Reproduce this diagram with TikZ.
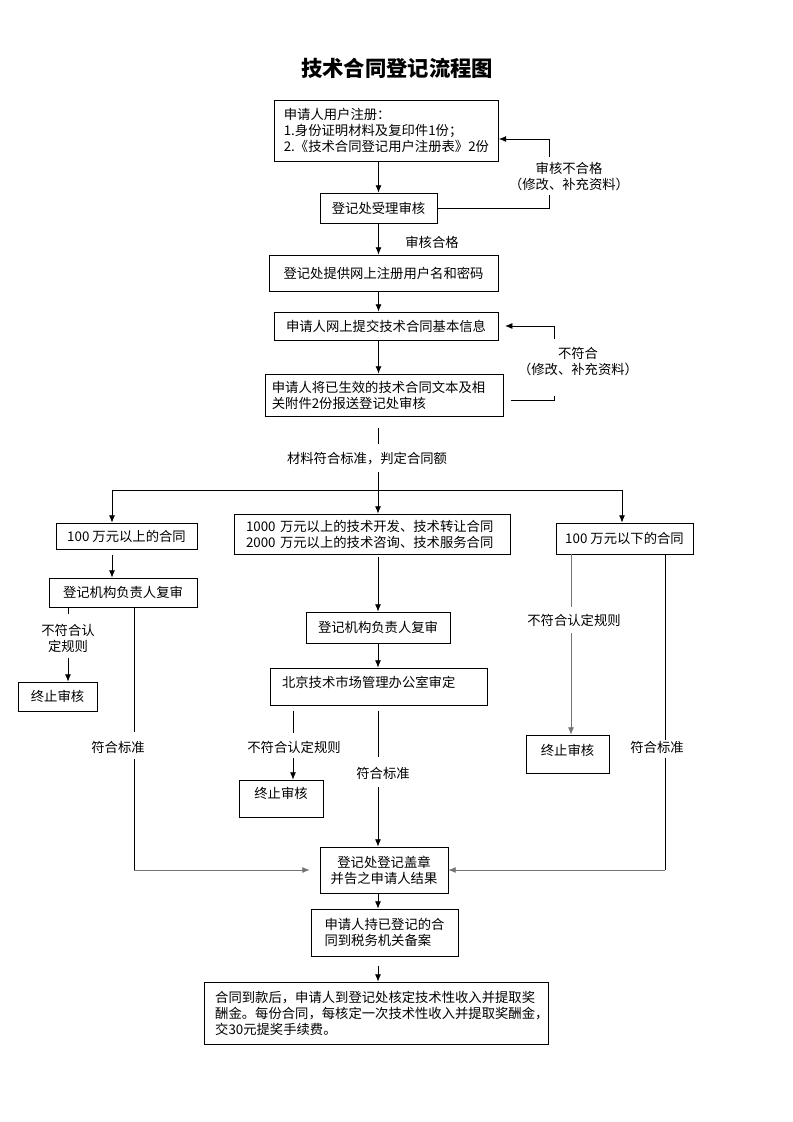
\documentclass[tikz,border=0pt]{standalone}
\usepackage{fontspec}
\setmainfont{Noto Sans CJK SC}
\usetikzlibrary{arrows.meta}

\tikzset{
  box/.style={draw, line width=0.6pt, inner sep=3pt},
  lbl/.style={align=center, inner sep=1pt},
  raised/.style={text height=8.8pt, text depth=#1},
  arr/.style={-{Latex[length=5.5pt,width=4.5pt]}},
  gline/.style={draw=black!55},
}

\begin{document}
\begin{tikzpicture}[x=0.75pt, y=-0.75pt, line width=0.6pt, font=\fontsize{10pt}{12pt}\selectfont]
		\useasboundingbox (0,0) rectangle (793,1122);
		\node[font=\fontsize{16pt}{18pt}\selectfont\bfseries] (title) at (397,68) {技术合同登记流程图};
		% upper boxes
		\node[box, align=left, inner xsep=7pt, text width=154pt, minimum height=45.75pt] (reg) at (386.5,130.5) {申请人用户注册：\\1.身份证明材料及复印件1份；\\2.《技术合同登记用户注册表》2份};
		\node[box, minimum width=87.75pt, minimum height=22.5pt] (acc) at (378.5,208) {登记处受理审核};
		\node[box, minimum width=171.75pt, minimum height=27pt] (pwd) at (383.5,273) {登记处提供网上注册用户名和密码};
		\node[box, minimum width=168pt, minimum height=21pt] (info) at (386,326) {申请人网上提交技术合同基本信息};
		\node[box, align=left, inner xsep=5pt, text width=169pt, minimum height=31.5pt] (send) at (384.5,395) {申请人将已生效的技术合同文本及相\\关附件2份报送登记处审核};
		\node[lbl] (nopass) at (569,176) {审核不合格\\（修改、补充资料）};
		\node[lbl] (pass) at (432,242) {审核合格};
		\node[lbl] (nomatch) at (578,362) {不符合\\（修改、补充资料）};
		\node[lbl] (judge) at (367,459) {材料符合标准，判定合同额};
		% three kinds of contract
		\node[box, minimum width=105.75pt, minimum height=19.5pt] (big) at (126.5,536) {100 万元以上的合同};
		\node[box, align=left, inner xsep=9pt, text width=189pt, minimum height=30pt] (huge) at (372,534) {1000 万元以上的技术开发、技术转让合同\\2000 万元以上的技术咨询、技术服务合同};
		\node[box, minimum width=102.75pt, minimum height=23.25pt] (small) at (624.5,538.5) {100 万元以下的合同};
		% left column
		\node[box, minimum width=111pt, minimum height=21.75pt] (revL) at (123,592.5) {登记机构负责人复审};
		\node[box, minimum width=59.25pt, minimum height=21.75pt] (stopL) at (57.5,696.5) {终止审核};
		\node[lbl] (noruleL) at (68,638) {不符合认\\定规则};
		\node[lbl] (okL) at (118,747) {符合标准};
		% middle column
		\node[box, minimum width=108pt, minimum height=23.25pt] (revM) at (378,627.5) {登记机构负责人复审};
		\node[box, align=left, inner xsep=9pt, text width=144.75pt, minimum height=27.75pt, raised=8pt] (bj) at (378.5,686.5) {北京技术市场管理办公室审定};
		\node[box, minimum width=63pt, minimum height=27.75pt, raised=9.4pt] (stopM) at (281,798.5) {终止审核};
		\node[lbl] (noruleM) at (294,747) {不符合认定规则};
		\node[lbl] (okM) at (383,773) {符合标准};
		% right column
		\node[box, minimum width=62.25pt, minimum height=28.5pt, raised=7.2pt] (stopR) at (567.5,754) {终止审核};
		\node[lbl] (noruleR) at (574,620) {不符合认定规则};
		\node[lbl] (okR) at (657,747) {符合标准};
		% lower boxes
		\node[box, align=center, minimum width=96pt, minimum height=34.5pt] (seal) at (384,870) {登记处登记盖章\\并告之申请人结果};
		\node[box, align=left, minimum width=110.25pt, minimum height=35.25pt] (tax) at (384.5,932.5) {申请人持已登记的合\\同到税务机关备案};
		\node[box, align=left, inner xsep=8pt, text width=242pt, minimum height=46.5pt] (fee) at (376.5,1013) {合同到款后，申请人到登记处核定技术性收入并提取奖\\酬金。每份合同，每核定一次技术性收入并提取奖酬金，\\交30元提奖手续费。};
		% bends and gaps
		\coordinate (fbA) at (549,195);
		\coordinate (fbB) at (549,157);
		\coordinate (fbC) at (549,139);
		\coordinate (fbD) at (554,400);
		\coordinate (fbE) at (554,396);
		\coordinate (fbF) at (554,339);
		\coordinate (fbG) at (554,326);
		\coordinate (brA) at (378,444);
		\coordinate (brB) at (378,472);
		\coordinate (brC) at (378,490);
		\coordinate (brL) at (112,490);
		\coordinate (brR) at (622,490);
		\coordinate (nlA) at (68,614);
		\coordinate (nlB) at (68,658);
		\coordinate (olA) at (134,732);
		\coordinate (olB) at (134,759);
		\coordinate (olC) at (134,870);
		\coordinate (nmA) at (293,733);
		\coordinate (nmB) at (293,758);
		\coordinate (omA) at (378,757);
		\coordinate (omB) at (378,787);
		\coordinate (nrA) at (571,607);
		\coordinate (nrB) at (571,633);
		\coordinate (orA) at (665,740);
		\coordinate (orB) at (665,758);
		\coordinate (orC) at (665,870);
		% upper connectors
		\draw[arr] (reg.south -| acc) -- (acc.north);
		\draw (acc.east) -| (fbA);
		\draw[arr] (fbB) -- (fbC) -- (reg.east |- fbC);
		\draw[arr] (acc.south) -- (pwd.north -| acc);
		\draw[arr] (pwd.south -| acc) -- (info.north -| acc);
		\draw[arr] (info.south -| acc) -- (send.north -| acc);
		\draw[shorten <=5pt] (send.east |- fbD) -- (fbD) -- (fbE);
		\draw[arr, shorten >=5pt] (fbF) -- (fbG) -- (info.east |- fbG);
		% branching
		\draw[shorten <=9pt] (send.south -| brA) -- (brA);
		\draw (brB) -- (brC);
		\draw (brL) -- (brR);
		\draw[arr] (brL) -- (brL |- big.north);
		\draw[arr] (brC) -- (brC |- huge.north);
		\draw[arr] (brR) -- (brR |- small.north);
		% left
		\draw[arr, shorten <=4pt] (big.south -| brL) -- (brL |- revL.north);
		\draw (revL.south -| nlA) -- (nlA);
		\draw[arr] (nlB) -- (nlB |- stopL.north);
		\draw (revL.south -| olA) -- (olA);
		\draw (olB) -- (olC);
		\draw[arr, gline, shorten >=7.5pt] (olC) -- (seal.west);
		% middle
		\draw[arr, shorten <=2pt] (huge.south -| revM) -- (revM.north);
		\draw[arr] (revM.south) -- (revM.south |- bj.north);
		\draw[shorten <=4pt] (bj.south -| nmA) -- (nmA);
		\draw[arr] (nmB) -- (nmB |- stopM.north);
		\draw[shorten <=4pt] (bj.south -| omA) -- (omA);
		\draw[arr] (omB) -- (omB |- seal.north);
		% right
		\draw[gline] (small.south -| nrA) -- (nrA);
		\draw[arr, gline] (nrB) -- (nrB |- stopR.north);
		\draw (small.south -| orA) -- (orA);
		\draw (orB) -- (orC);
		\draw[arr, gline] (orC) -- (seal.east);
		% lower
		\draw[arr] (seal.south -| omA) -- (omA |- tax.north);
		\draw[arr, shorten <=7pt] (tax.south -| omA) -- (omA |- fee.north);
\end{tikzpicture}
\end{document}
